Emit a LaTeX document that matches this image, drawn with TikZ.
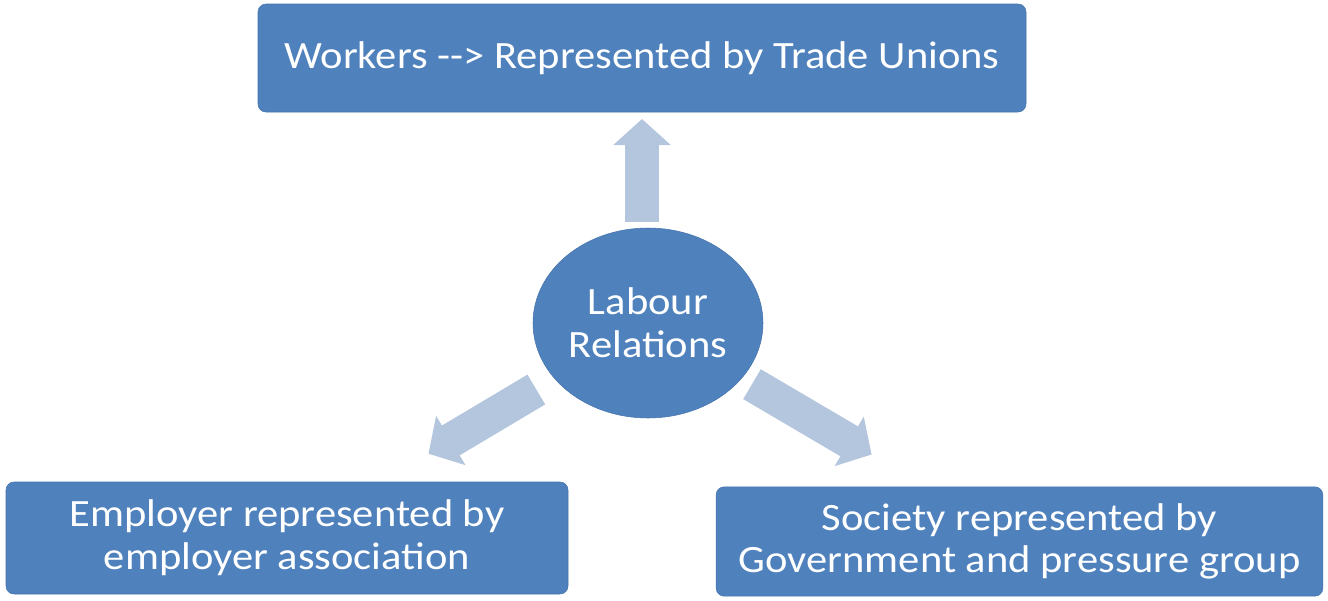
\documentclass[tikz,border=0pt]{standalone}
\usepackage{fontspec}
\setmainfont{Carlito}[FakeStretch=1.1]
\usetikzlibrary{shapes.geometric, arrows.meta, positioning, calc}
\definecolor{colBlock}{RGB}{79,129,189}
\definecolor{colBorder}{RGB}{70,116,172}
\definecolor{colArrow}{RGB}{180,197,222}
\tikzset{
    block/.style={rectangle, draw=colBorder, fill=colBlock, rounded corners=6pt, thin,
        text=white, align=center, inner sep=0pt, font=\fontsize{29}{32}\selectfont},
    hub/.style={ellipse, draw=colBorder, fill=colBlock, thin, text=white, align=center,
        inner sep=0pt, minimum width=172.5pt, minimum height=142.5pt,
        font=\fontsize{29}{32}\selectfont},
    bigarrow/.style={-{Triangle[width=42pt, length=19.5pt]}, line width=26pt, draw=colArrow}
}

\begin{document}
\begin{tikzpicture}[x=0.75pt, y=-0.75pt]
    \useasboundingbox (0,0) rectangle (1328,600);

    \node[hub] (labour) at (648,323) {Labour\\Relations};

    \node[block, minimum width=576pt, minimum height=81pt] (workers) at (642,58)
        {Workers -{}-> Represented by Trade Unions};
    \node[block, minimum width=421.5pt, minimum height=84pt] (employer) at (287,538)
        {Employer represented by\\employer association};
    \node[block, minimum width=455pt, minimum height=82pt] (society) at (1019.5,541.5)
        {Society represented by\\Government and pressure group};

    % arrows out of the hub
    \draw[bigarrow, shorten <=75.75pt, shorten >=45.75pt] (workers.center |- labour.center) -- (workers.center);
    \draw[bigarrow, shorten <=97.5pt, shorten >=123.5pt] (labour.center) -- (employer.center);
    \draw[bigarrow, shorten <=90.5pt, shorten >=128.7pt] (labour.center) -- (society.center);

\end{tikzpicture}
\end{document}
